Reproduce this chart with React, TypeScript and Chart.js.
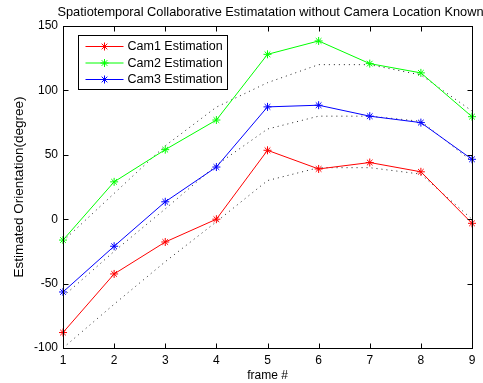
import React, { useEffect, useRef } from "react";
import { Chart, registerables } from "chart.js";

Chart.register(...registerables);

const frames = [1, 2, 3, 4, 5, 6, 7, 8, 9];
const cam1Estimation = [-88, -42.5, -17.7, 0, 53.5, 39, 44, 36.8, -3.2];
const cam2Estimation = [-16.2, 29, 54, 77, 128, 138.4, 120.8, 113.6, 79.6];
const cam3Estimation = [-56.5, -21, 13.5, 40.5, 87.2, 88.5, 80, 75, 46.5];
const cam1Truth = [-100, -66, -33, -2, 30, 40, 40, 35, 0];
const cam2Truth = [-17, 20, 57, 87, 106, 120, 120, 112, 84];
const cam3Truth = [-60, -25, 8, 42, 70, 80, 80, 76, 45];
const seriesLabels = ["Cam1 Estimation", "Cam2 Estimation", "Cam3 Estimation"];
const seriesColors = ["#ff0000", "#00ff00", "#0000ff"];
const titleText = "Spatiotemporal Collaborative Estimatation without Camera Location Known";
const xTitle = "frame #";
const yTitle = "Estimated Orientation(degree)";

const FONT = "'Liberation Sans', Arial, Helvetica, sans-serif";

const toPoints = (arr: number[]) => frames.map((f, i) => ({ x: f, y: arr[i] }));

function drawStar(ctx: CanvasRenderingContext2D, x: number, y: number, r: number) {
  ctx.beginPath();
  for (let k = 0; k < 4; k++) {
    const ang = (k * Math.PI) / 4;
    const dx = Math.cos(ang) * r;
    const dy = Math.sin(ang) * r;
    ctx.moveTo(x - dx, y - dy);
    ctx.lineTo(x + dx, y + dy);
  }
  ctx.stroke();
}

const boxPlugin = {
  id: "matlabBox",
  afterDatasetsDraw(chart: any) {
    const { ctx, chartArea: a, scales } = chart;
    const L = Math.round(a.left) + 0.5;
    const R = Math.round(a.right) + 0.5;
    const T = Math.round(a.top) + 0.5;
    const B = Math.round(a.bottom) + 0.5;
    ctx.save();

    // title
    ctx.fillStyle = "#000";
    ctx.font = `12.8px ${FONT}`;
    ctx.textAlign = "center";
    ctx.textBaseline = "middle";
    ctx.fillText(titleText, (a.left + a.right) / 2 + 3, 12.5);

    ctx.strokeStyle = "#000";
    ctx.lineWidth = 1;
    ctx.setLineDash([]);
    ctx.strokeRect(L, T, R - L, B - T);
    const tl = 5;
    ctx.beginPath();
    scales.x.ticks.forEach((t: any) => {
      const px = Math.round(scales.x.getPixelForValue(t.value)) + 0.5;
      ctx.moveTo(px, B);
      ctx.lineTo(px, B - tl);
      ctx.moveTo(px, T);
      ctx.lineTo(px, T + tl);
    });
    scales.y.ticks.forEach((t: any) => {
      const py = Math.round(scales.y.getPixelForValue(t.value)) + 0.5;
      ctx.moveTo(L, py);
      ctx.lineTo(L + tl, py);
      ctx.moveTo(R, py);
      ctx.lineTo(R - tl, py);
    });
    ctx.stroke();

    // legend
    const bx = Math.round(a.left) + 15.5;
    const by = Math.round(a.top) + 9.5;
    const bw = 149;
    const bh = 54;
    ctx.fillStyle = "#fff";
    ctx.fillRect(bx, by, bw, bh);
    ctx.strokeStyle = "#000";
    ctx.strokeRect(bx, by, bw, bh);
    ctx.font = `12.5px ${FONT}`;
    ctx.textBaseline = "middle";
    ctx.textAlign = "left";
    const ds = chart.data.datasets.slice(0, 3);
    ds.forEach((d: any, i: number) => {
      const cy = by + 11 + i * 16.5;
      ctx.strokeStyle = d.borderColor;
      ctx.lineWidth = 1;
      ctx.beginPath();
      ctx.moveTo(bx + 7, cy);
      ctx.lineTo(bx + 45, cy);
      ctx.stroke();
      drawStar(ctx, bx + 26, cy, 4);
      ctx.fillStyle = "#000";
      ctx.fillText(d.label, bx + 49, cy + 0.5);
    });
    ctx.restore();
  },
};

export default function App() {
  const ref = useRef<HTMLCanvasElement | null>(null);
  useEffect(() => {
    document.body.style.margin = "0";
    if (!ref.current) return;
    const estimates = [cam1Estimation, cam2Estimation, cam3Estimation];
    const truths = [cam1Truth, cam2Truth, cam3Truth];
    const datasets: any[] = [];
    estimates.forEach((arr, i) => {
      datasets.push({
        label: seriesLabels[i],
        data: toPoints(arr),
        borderColor: seriesColors[i],
        backgroundColor: seriesColors[i],
        borderWidth: 1,
        pointStyle: "star",
        pointRadius: 4,
        pointBorderWidth: 1,
        pointBorderColor: seriesColors[i],
        tension: 0,
        clip: false,
      });
    });
    truths.forEach((arr, i) => {
      datasets.push({
        label: "truth" + (i + 1),
        data: toPoints(arr),
        borderColor: "#222",
        borderWidth: 1,
        borderDash: [1, 4],
        pointRadius: 0,
        tension: 0,
        clip: false,
      });
    });
    const tickFont = { family: FONT, size: 12 };
    const chart = new Chart(ref.current, {
      type: "line",
      data: { datasets },
      plugins: [boxPlugin],
      options: {
        animation: false,
        responsive: false,
        devicePixelRatio: 1,
        layout: { padding: { left: 0, right: 11, top: 26, bottom: 0 } },
        plugins: {
          legend: { display: false },
          tooltip: { enabled: false },
          title: { display: false },
        },
        scales: {
          x: {
            type: "linear",
            min: 1,
            max: 9,
            grid: { display: false, drawTicks: false },
            border: { display: false },
            ticks: { stepSize: 1, color: "#000", font: tickFont, padding: 5, maxRotation: 0 },
            title: { display: true, text: xTitle, color: "#000", font: tickFont, padding: { top: 0, bottom: 0 } },
            afterFit: (s: any) => {
              s.height = 35;
            },
          },
          y: {
            type: "linear",
            min: -100,
            max: 150,
            grid: { display: false, drawTicks: false },
            border: { display: false },
            ticks: { stepSize: 50, color: "#000", font: tickFont, padding: 5 },
            title: {
              display: true,
              text: yTitle,
              color: "#000",
              font: { family: FONT, size: 13.5 },
              padding: { top: 11.5, bottom: 0 },
            },
            afterFit: (s: any) => {
              s.width = 63;
            },
          },
        },
      } as any,
    });
    return () => chart.destroy();
  }, []);
  return (
    <div style={{ width: 483, height: 383 }}>
      <canvas ref={ref} width={483} height={383} style={{ display: "block" }} />
    </div>
  );
}
